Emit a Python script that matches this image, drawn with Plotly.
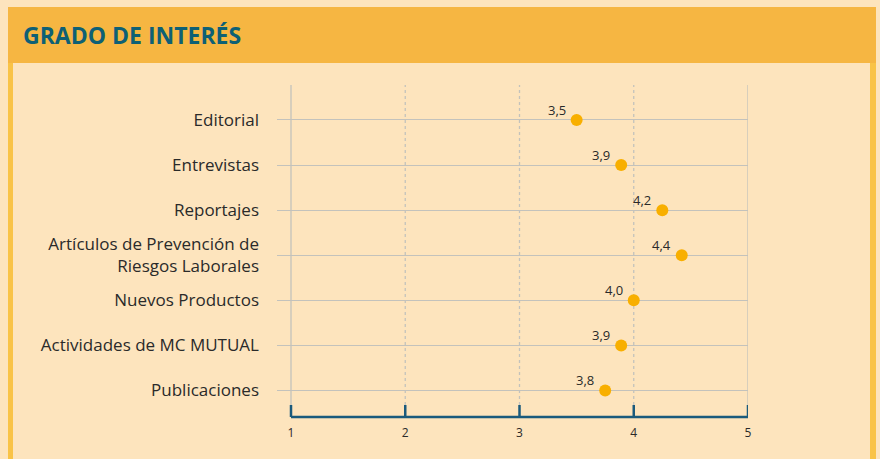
import plotly.graph_objects as go

categories = ["Editorial", "Entrevistas", "Reportajes",
              "Artículos de Prevención de<br>Riesgos Laborales",
              "Nuevos Productos", "Actividades de MC MUTUAL", "Publicaciones"]
values = [3.5, 3.89, 4.25, 4.42, 4.0, 3.89, 3.75]
value_labels = ["3,5", "3,9", "4,2", "4,4", "4,0", "3,9", "3,8"]
x_ticks = [1, 2, 3, 4, 5]
x_tick_labels = ["1", "2", "3", "4", "5"]
title_text = "GRADO DE INTERÉS"

BG = "#FDE4BD"
HEADER = "#F6B642"
STRIP = "#F9C347"
TEAL = "#0E6075"
NAVY = "#1A5A7C"
GRID = "#C3C2BC"
DOT = "#F8AF00"
TXT = "#2A2A2A"

W, H = 880, 459
L, R, T, B = 277, 132, 85, 42
PW, PH = W - L - R, H - T - B
px_per_unit = (PW - 14) / 4.0
xmin = 1 - 14 / px_per_unit


def px(x):
    return (x - L) / PW


def py(y):
    return (H - B - y) / PH


fig = go.Figure()
fig.add_trace(go.Scatter(
    x=values, y=categories, mode="markers",
    marker=dict(size=12, color=DOT),
    cliponaxis=False, hoverinfo="skip", showlegend=False,
))

annotations = [dict(text="<b>" + title_text + "</b>", xref="paper", yref="paper",
                    x=px(21), y=py(35), xanchor="left", yanchor="middle",
                    showarrow=False,
                    font=dict(family="Open Sans", size=23, color=TEAL))]
for v, c, lab in zip(values, categories, value_labels):
    annotations.append(dict(text=lab, x=v, y=c, xref="x", yref="y",
                            xanchor="right", yanchor="middle",
                            xshift=-9, yshift=10, showarrow=False,
                            font=dict(family="Open Sans", size=13, color=TXT)))

shapes = []
shapes.append(dict(type="rect", xref="paper", yref="paper",
                   x0=px(8), x1=px(876), y0=py(63), y1=py(7),
                   fillcolor=HEADER, line_width=0, layer="below"))
for xa, xb in [(8, 13), (870, 876)]:
    shapes.append(dict(type="rect", xref="paper", yref="paper",
                       x0=px(xa), x1=px(xb), y0=py(470), y1=py(63),
                       fillcolor=STRIP, line_width=0, layer="below"))
tick_top = 12 / PH
for v in x_ticks:
    dash = "solid" if v in (x_ticks[0], x_ticks[-1]) else "dot"
    shapes.append(dict(type="line", xref="x", yref="paper", x0=v, x1=v,
                       y0=tick_top, y1=1, line=dict(color=GRID, width=1.3, dash=dash),
                       layer="below"))
    shapes.append(dict(type="line", xref="x", yref="paper", x0=v, x1=v,
                       y0=0, y1=tick_top, line=dict(color=NAVY, width=2.5)))
shapes.append(dict(type="line", xref="x", yref="paper", x0=x_ticks[0], x1=x_ticks[-1],
                   y0=0, y1=0, line=dict(color=NAVY, width=2.5)))

fig.update_layout(
    width=W, height=H,
    margin=dict(l=L, r=R, t=T, b=B),
    paper_bgcolor=BG, plot_bgcolor=BG,
    shapes=shapes,
    annotations=annotations,
    xaxis=dict(range=[xmin, 5], tickvals=x_ticks, ticktext=x_tick_labels,
               showgrid=False, zeroline=False, showline=False,
               tickfont=dict(family="Open Sans", size=12, color=TXT),
               ticks="", ticklabelstandoff=7, fixedrange=True),
    yaxis=dict(categoryorder="array", categoryarray=categories,
               range=[6.588, -0.776], showgrid=True, gridcolor=GRID, gridwidth=1,
               zeroline=False, showline=False, ticks="",
               tickfont=dict(family="Open Sans", size=17, color=TXT),
               ticklabelstandoff=17, fixedrange=True),
)

fig.write_html("out.html",
               config={"displayModeBar": False, "staticPlot": True},
               post_script="document.body.style.margin='0';"
                           "document.body.style.background='" + BG + "';")
